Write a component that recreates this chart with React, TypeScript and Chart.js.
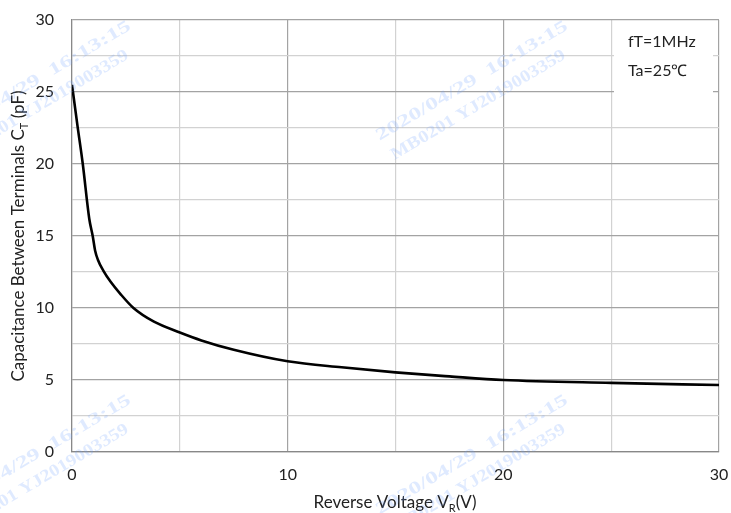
import React, { useEffect, useRef } from "react";
import { Chart, registerables } from "chart.js";
Chart.register(...registerables);

const voltage = [0, 0.25, 0.5, 0.8, 0.96, 1.07, 1.2, 1.45, 1.8, 2.23, 2.85, 3.8, 5, 6, 7.5, 10, 12.5, 15, 17.5, 20, 25, 30];
const capacitance = [25.5, 22.7, 20, 16.2, 15.0, 14.0, 13.35, 12.6, 11.8, 11.0, 10.0, 9.05, 8.3, 7.75, 7.1, 6.3, 5.88, 5.53, 5.25, 5.0, 4.8, 4.65];

const xTickLabels = [0, 10, 20, 30];
const yTickLabels = [0, 5, 10, 15, 20, 25, 30];
const xTitle = ["Reverse Voltage V", "R", "(V)"];
const yTitle = ["Capacitance Between Terminals C", "T", " (pF)"];
const noteLines = ["fT=1MHz", "Ta=25℃"];
const watermarkLines = ["2020/04/29  16:13:15", "MB0201 YJ2019003359"];

const FONT = "Lato, 'Open Sans', sans-serif";

function drawSubText(ctx: CanvasRenderingContext2D, parts: string[], size: number) {
  const main = `${size}px ${FONT}`;
  const sub = `${Math.round(size * 0.65)}px ${FONT}`;
  ctx.font = main;
  const w0 = ctx.measureText(parts[0]).width;
  const w2 = ctx.measureText(parts[2]).width;
  ctx.font = sub;
  const w1 = ctx.measureText(parts[1]).width;
  const total = w0 + w1 + w2;
  let x = -total / 2;
  ctx.textAlign = "left";
  ctx.textBaseline = "middle";
  ctx.font = main;
  ctx.fillText(parts[0], x, 0);
  x += w0;
  ctx.font = sub;
  ctx.fillText(parts[1], x, size * 0.3);
  x += w1;
  ctx.font = main;
  ctx.fillText(parts[2], x, 0);
}

const decorPlugin = {
  id: "decor",
  afterDraw(chart: any) {
    const ctx: CanvasRenderingContext2D = chart.ctx;
    const xs = chart.scales.x;
    const ys = chart.scales.y;

    // tick labels
    ctx.save();
    ctx.fillStyle = "#222";
    ctx.font = `16px ${FONT}`;
    ctx.textBaseline = "middle";
    ctx.textAlign = "center";
    xTickLabels.forEach((v) => ctx.fillText(String(v), xs.getPixelForValue(v), chart.chartArea.bottom + 23));
    ctx.textAlign = "right";
    yTickLabels.forEach((v) => ctx.fillText(String(v), chart.chartArea.left - 18, ys.getPixelForValue(v)));
    ctx.restore();

    // note box
    ctx.save();
    ctx.fillStyle = "#ffffff";
    ctx.fillRect(614, 21, 99, 75);
    ctx.fillStyle = "#222";
    ctx.font = `16px ${FONT}`;
    ctx.textAlign = "left";
    ctx.textBaseline = "middle";
    ctx.fillText(noteLines[0], 628, 42);
    ctx.fillText(noteLines[1], 628, 71);
    ctx.restore();

    // axis titles
    ctx.save();
    ctx.fillStyle = "#222";
    ctx.translate(395, 503);
    drawSubText(ctx, xTitle, 17);
    ctx.restore();

    ctx.save();
    ctx.fillStyle = "#222";
    ctx.translate(19, 236);
    ctx.rotate(-Math.PI / 2);
    drawSubText(ctx, yTitle, 17);
    ctx.restore();

    // watermarks
    const centers = [
      [472, 81],
      [35, 81],
      [472, 455],
      [35, 455],
    ];
    const ang = Math.atan2(-112, 189);
    ctx.save();
    ctx.fillStyle = "rgba(110,160,255,0.22)";
    ctx.font = `bold 17px 'Liberation Serif', serif`;
    ctx.textAlign = "center";
    ctx.textBaseline = "middle";
    for (const [cx, cy] of centers) {
      ctx.save();
      ctx.translate(cx, cy);
      ctx.rotate(ang);
      const widths = [220, 200];
      const offs = [
        [0, 0],
        [-7, 24],
      ];
      watermarkLines.forEach((t, i) => {
        const m = ctx.measureText(t).width;
        ctx.save();
        ctx.translate(offs[i][0], offs[i][1]);
        ctx.scale(widths[i] / m, 1);
        ctx.fillText(t, 0, 0);
        ctx.restore();
      });
      ctx.restore();
    }
    ctx.restore();
  },
};

export default function App() {
  const ref = useRef<HTMLCanvasElement>(null);
  useEffect(() => {
    if (!ref.current) return;
    const points = voltage.map((v, i) => ({ x: v, y: capacitance[i] }));
    const chart = new Chart(ref.current, {
      type: "scatter",
      data: {
        datasets: [
          {
            data: points,
            showLine: true,
            borderColor: "#000000",
            borderWidth: 2.6,
            pointRadius: 0,
            cubicInterpolationMode: "monotone",
          } as any,
        ],
      },
      options: {
        animation: false,
        responsive: true,
        maintainAspectRatio: false,
        layout: { padding: { top: 20, right: 12, left: 0, bottom: 0 } },
        plugins: { legend: { display: false }, tooltip: { enabled: false } },
        scales: {
          x: {
            type: "linear",
            min: 0,
            max: 30,
            afterFit: (s: any) => {
              s.height = 61;
            },
            ticks: { stepSize: 5, autoSkip: false, display: false },
            grid: {
              drawTicks: false,
              lineWidth: 1.2,
              color: (c: any) => (c.tick && c.tick.value % 10 === 0 ? "#a3a3a3" : "#d2d2d2"),
            },
            border: { color: "#888888", width: 1.2 },
          },
          y: {
            type: "linear",
            min: 0,
            max: 30,
            afterFit: (s: any) => {
              s.width = 72;
            },
            ticks: { stepSize: 2.5, autoSkip: false, display: false },
            grid: {
              drawTicks: false,
              lineWidth: 1.2,
              color: (c: any) => (c.tick && c.tick.value % 5 === 0 ? "#a3a3a3" : "#d2d2d2"),
            },
            border: { color: "#888888", width: 1.2 },
          },
        },
      },
      plugins: [decorPlugin],
    });
    return () => chart.destroy();
  }, []);
  return (
    <div style={{ position: "absolute", left: 0, top: 0, width: 731, height: 513, background: "#fff" }}>
      <canvas ref={ref} />
    </div>
  );
}
